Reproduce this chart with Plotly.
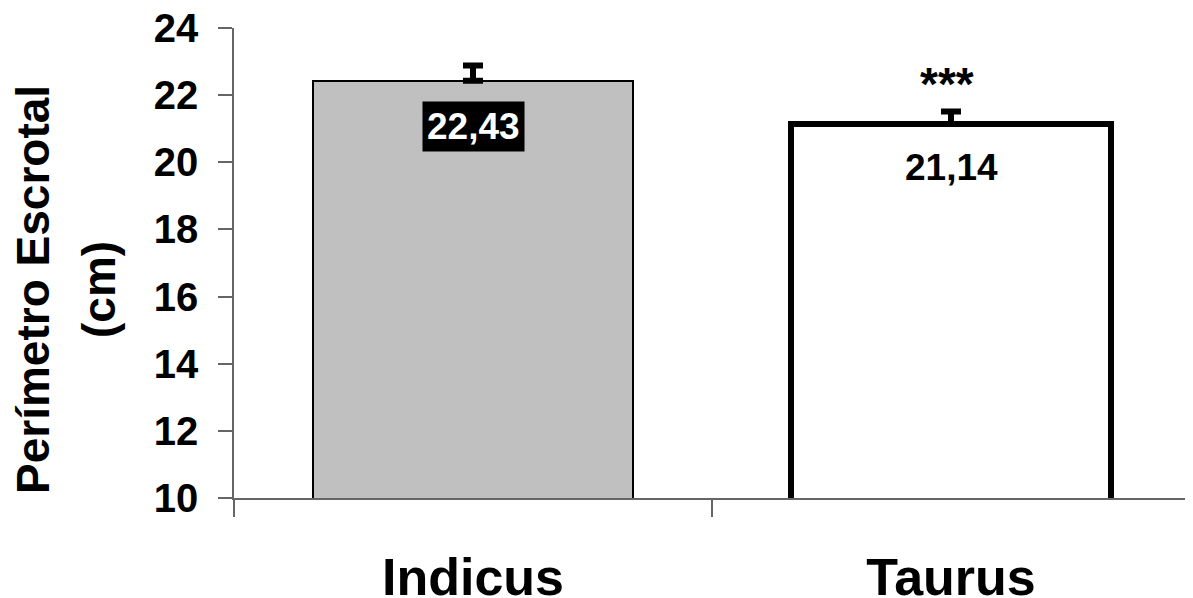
import plotly.graph_objects as go

categories = ["Indicus", "Taurus"]
means = [22.43, 21.14]
errors = [0.45, 0.37]
value_labels = ["22,43", "21,14"]
significance = ["", "***"]
y_ticks = [10, 12, 14, 16, 18, 20, 22, 24]
y_title_lines = ["Perímetro Escrotal", "(cm)"]

xpos = [0.5, 1.5]
FONT = "Liberation Sans, Arial, sans-serif"

fig = go.Figure()
fig.add_trace(go.Bar(
    x=xpos, y=means, width=0.67,
    marker=dict(color=["#c0c0c0", "#ffffff"],
                line=dict(color="black", width=[2, 6])),
    error_y=dict(type="data", symmetric=False, array=errors,
                 arrayminus=[0, 0], color="black", thickness=6, width=10),
    showlegend=False, hoverinfo="skip",
))

# value labels
fig.add_annotation(x=xpos[0], y=means[0], text=f"<b>{value_labels[0]}</b>",
                   showarrow=False, yanchor="middle", yshift=-46,
                   font=dict(family=FONT, size=37, color="white"),
                   bgcolor="black", borderpad=4)
fig.add_annotation(x=xpos[1], y=means[1], text=f"<b>{value_labels[1]}</b>",
                   showarrow=False, yanchor="middle", yshift=-43,
                   font=dict(family=FONT, size=37, color="black"))
for xp, m, e, s in zip(xpos, means, errors, significance):
    if s:
        fig.add_annotation(x=xp, y=m + e, text=f"<b>{s}</b>", showarrow=False,
                           yanchor="middle", yshift=28, xshift=-4,
                           font=dict(family=FONT, size=46, color="black"))

# y-axis title (two lines, wide spacing as in the original)
for line, xs in zip(y_title_lines, [-201, -135]):
    fig.add_annotation(xref="paper", yref="paper", x=0, y=0.4426,
                       xshift=xs, text=f"<b>{line}</b>", textangle=-90,
                       showarrow=False, xanchor="center", yanchor="middle",
                       font=dict(family=FONT, size=46, color="black"))

fig.update_layout(
    width=1185, height=590,
    margin=dict(l=226, r=3, t=20, b=100, autoexpand=False),
    plot_bgcolor="white", paper_bgcolor="white",
    font=dict(family=FONT, color="black"),
    bargap=0,
)
fig.update_xaxes(
    range=[0, 2], tickvals=xpos, ticktext=[f"<b>{c}</b>" for c in categories],
    ticks="", tickfont=dict(size=52, family=FONT, color="black"),
    ticklabelstandoff=33, automargin=False,
    showline=True, linecolor="#666666", linewidth=1.5,
    showgrid=False, zeroline=False,
    minor=dict(tickvals=[0, 1, 2], ticks="outside", ticklen=17,
               tickcolor="#666666", tickwidth=1.5, showgrid=False),
)
fig.update_yaxes(
    range=[10, 24], tickvals=y_ticks, ticktext=[f"<b>{t}</b>" for t in y_ticks],
    ticks="outside", ticklen=14, tickcolor="#666666", tickwidth=1.5,
    tickfont=dict(size=40, family=FONT, color="black"),
    ticklabelstandoff=12, automargin=False, ticklabeloverflow="allow",
    showline=True, linecolor="#666666", linewidth=1.5,
    showgrid=False, zeroline=False,
)

fig.write_html("out.html")
